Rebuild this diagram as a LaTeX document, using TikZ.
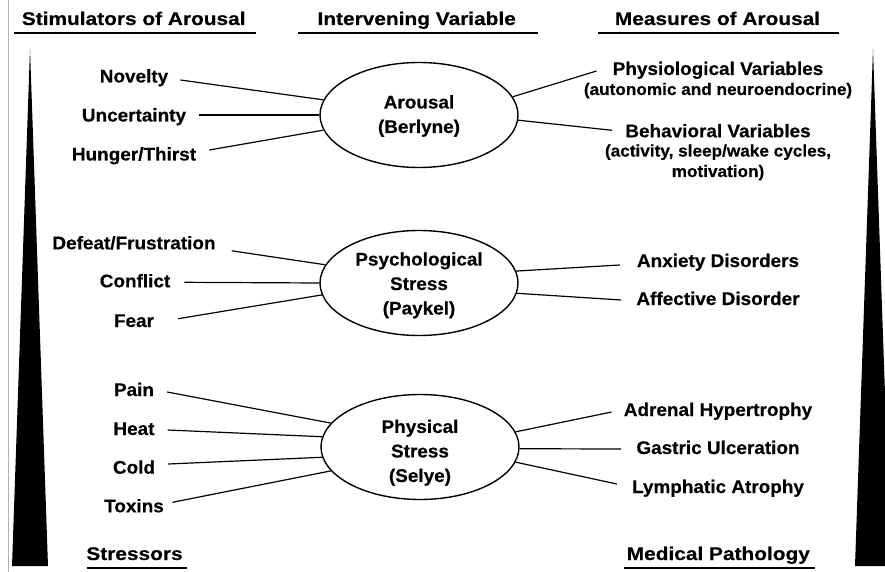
\documentclass[tikz,border=0pt]{standalone}
\usepackage{fontspec}
\setmainfont{Liberation Sans}[FakeStretch=1.035,FakeBold=0.4]
\newfontfamily\hdfont{Liberation Sans}[FakeStretch=1.14,FakeBold=0.4]
\usetikzlibrary{shapes.geometric}
\begin{document}
\begin{tikzpicture}[x=1pt,y=-1pt,
  hd/.style={font=\hdfont\bfseries\fontsize{18.3}{21}\selectfont, inner sep=0pt, anchor=base},
  itm/.style={font=\bfseries\fontsize{18.3}{21}\selectfont, inner sep=0pt, anchor=base},
  subl/.style={font=\bfseries\fontsize{16.6}{20}\selectfont, inner sep=0pt, anchor=base},
  ell/.style={draw, ellipse, line width=1.4pt, minimum width=198pt, minimum height=105pt, inner sep=0pt},
  etxt/.style={font=\bfseries\fontsize{18.3}{24.5}\selectfont, inner sep=0pt, align=center},
  conn/.style={line width=1.2pt},
  uline/.style={line width=1.8pt},
  wedge/.style={fill=black},
]
\useasboundingbox (0,0) rectangle (885,572);

% side elements
\draw[gray!60, line width=0.8pt] (8,0) -- (8,572);
\fill[wedge] (30,49) -- (12,566) -- (48,566) -- cycle;
\fill[wedge] (873,49) -- (855,566) -- (891,566) -- cycle;

% headers
\node[hd] (h1) at (133.7,25) {Stimulators of Arousal};
\node[hd] (h2) at (416.7,25) {Intervening Variable};
\node[hd] (h3) at (717.5,25) {Measures of Arousal};
\node[hd] (h4) at (134.5,560) {Stressors};
\node[hd] (h5) at (718.3,560) {Medical Pathology};
\draw[uline] (14,33) -- (256,33);
\draw[uline] (298,33) -- (538,33);
\draw[uline] (598,33) -- (839,33);
\draw[uline] (87,567.7) -- (187,567.7);
\draw[uline] (624,567.7) -- (815,567.7);

% Arousal group
\node[ell] (ar) at (419,115) {};
\node[etxt] (arT) at (419,116) {Arousal\\(Berlyne)};
\node[itm] (nov) at (134,82.5) {Novelty};
\node[itm] (unc) at (134,121.5) {Uncertainty};
\node[itm] (hun) at (134,160.5) {Hunger/Thirst};
\node[itm] (phy) at (718,75) {Physiological Variables};
\node[subl] (phy2) at (718,95) {(autonomic and neuroendocrine)};
\node[itm] (beh) at (718,137.3) {Behavioral Variables};
\node[subl] (beh2) at (718,156.5) {(activity, sleep/wake cycles,};
\node[subl] (beh3) at (718,177) {motivation)};
\draw[conn] ([xshift=12pt,yshift=2.5pt]nov.base east) -- (ar.171);
\draw[conn] ([xshift=13pt,yshift=6.5pt]unc.base east) -- (ar.180);
\draw[conn] ([xshift=13pt,yshift=10.5pt]hun.base east) -- (ar.189);
\draw[conn] (ar.11) -- ([xshift=-16pt,yshift=4pt]phy.base west);
\draw[conn] (ar.-3) -- ([xshift=-13pt,yshift=7pt]beh.base west);

% Psychological stress group
\node[ell] (ps) at (419,283) {};
\node[etxt] (psT) at (419,285.3) {Psychological\\Stress\\(Paykel)};
\node[itm] (def) at (134,249.3) {Defeat/Frustration};
\node[itm] (con) at (135,287.3) {Conflict};
\node[itm] (fea) at (134,327) {Fear};
\node[itm] (anx) at (718,267) {Anxiety Disorders};
\node[itm] (aff) at (718,305) {Affective Disorder};
\draw[conn] ([xshift=16pt,yshift=-1.5pt]def.base east) -- (ps.169.5);
\draw[conn] ([xshift=14pt,yshift=5pt]con.base east) -- (ps.180);
\draw[conn] ([xshift=24pt,yshift=8.3pt]fea.base east) -- (ps.187);
\draw[conn] (ps.7.7) -- ([xshift=-17pt,yshift=2pt]anx.base west);
\draw[conn] (ps.-6) -- ([xshift=-15pt,yshift=5pt]aff.base west);

% Physical stress group
\node[ell] (ph) at (420,447) {};
\node[etxt] (phT) at (420,452.7) {Physical\\Stress\\(Selye)};
\node[itm] (pain) at (134,396) {Pain};
\node[itm] (heat) at (134,435) {Heat};
\node[itm] (cold) at (134,473.7) {Cold};
\node[itm] (tox) at (134,512.3) {Toxins};
\node[itm] (adr) at (718,416) {Adrenal Hypertrophy};
\node[itm] (gas) at (718,454) {Gastric Ulceration};
\node[itm] (lym) at (718,493) {Lymphatic Atrophy};
\draw[conn] ([xshift=13pt,yshift=4pt]pain.base east) -- (ph.165);
\draw[conn] ([xshift=13pt,yshift=5pt]heat.base east) -- (ph.174);
\draw[conn] ([xshift=13pt,yshift=9.7pt]cold.base east) -- (ph.186);
\draw[conn] ([xshift=8.4pt,yshift=10pt]tox.base east) -- (ph.195.5);
\draw[conn] (ph.9) -- ([xshift=-12pt,yshift=4pt]adr.base west);
\draw[conn] (ph.-1) -- ([xshift=-15pt,yshift=5pt]gas.base west);
\draw[conn] (ph.-9.5) -- ([xshift=-15pt,yshift=9pt]lym.base west);
\end{tikzpicture}
\end{document}
